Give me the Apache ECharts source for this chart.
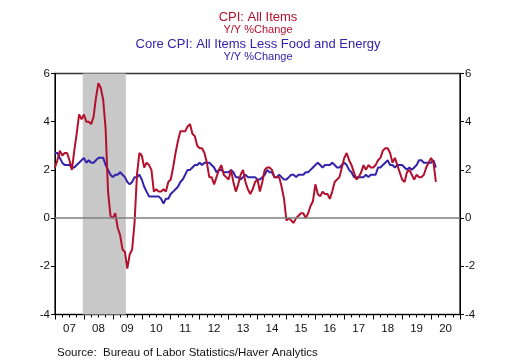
<!DOCTYPE html>
<html><head><meta charset="utf-8">
<script src="https://cdn.jsdelivr.net/npm/echarts@6/dist/echarts.min.js"></script>
<style>html,body{margin:0;padding:0;background:#fff}#c{width:515px;height:362px}</style>
</head><body><div id="c"></div>
<script>
const yearLabels = ['07','08','09','10','11','12','13','14','15','16','17','18','19','20'];
const startYear = 2007;
// CPI: All Items, Y/Y % change, monthly from Jan 2007
const cpiAll = [
 2.1,2.4,2.8,2.6,2.7,2.7,2.4,2.0,2.8,3.5,4.3,4.1,
 4.3,4.0,4.0,3.9,4.2,5.0,5.6,5.4,4.9,3.7,1.1,0.1,
 0.0,0.2,-0.4,-0.7,-1.3,-1.4,-2.1,-1.5,-1.3,-0.2,1.8,2.7,
 2.6,2.1,2.3,2.2,2.0,1.1,1.2,1.1,1.1,1.2,1.1,1.5,
 1.6,2.1,2.7,3.2,3.6,3.6,3.6,3.8,3.9,3.5,3.4,3.0,
 2.9,2.9,2.7,2.3,1.7,1.7,1.4,1.7,2.0,2.2,1.8,1.7,
 1.6,2.0,1.5,1.1,1.4,1.8,2.0,1.5,1.2,1.0,1.2,1.5,
 1.6,1.1,1.5,2.0,2.1,2.1,2.0,1.7,1.7,1.7,1.3,0.8,
 -0.1,0.0,-0.1,-0.2,0.0,0.1,0.2,0.2,0.0,0.2,0.5,0.7,
 1.4,1.0,0.9,1.1,1.0,1.0,0.8,1.1,1.5,1.6,1.7,2.1,
 2.5,2.7,2.4,2.2,1.9,1.6,1.7,1.9,2.2,2.0,2.2,2.1,
 2.1,2.2,2.4,2.5,2.8,2.9,2.9,2.7,2.3,2.5,2.2,1.9,
 1.6,1.5,1.9,2.0,1.8,1.6,1.8,1.7,1.7,1.8,2.1,2.3,
 2.5,2.3,1.5
];
// Core CPI: All Items Less Food and Energy, Y/Y % change, monthly from Jan 2007
const cpiCore = [
 2.7,2.7,2.5,2.3,2.2,2.2,2.2,2.1,2.1,2.2,2.3,2.4,
 2.5,2.3,2.4,2.3,2.3,2.4,2.5,2.5,2.5,2.2,2.0,1.8,
 1.7,1.8,1.8,1.9,1.8,1.7,1.5,1.4,1.5,1.7,1.7,1.8,
 1.6,1.3,1.1,0.9,0.9,0.9,0.9,0.9,0.8,0.6,0.8,0.8,
 1.0,1.1,1.2,1.3,1.5,1.6,1.8,2.0,2.0,2.1,2.2,2.2,
 2.3,2.2,2.3,2.3,2.3,2.2,2.1,1.9,2.0,2.0,1.9,1.9,
 1.9,2.0,1.9,1.7,1.7,1.6,1.7,1.8,1.7,1.7,1.7,1.7,
 1.6,1.6,1.7,1.8,2.0,1.9,1.9,1.7,1.7,1.8,1.7,1.6,
 1.6,1.7,1.8,1.8,1.7,1.8,1.8,1.8,1.9,1.9,2.0,2.1,
 2.2,2.3,2.2,2.1,2.2,2.2,2.2,2.3,2.2,2.1,2.1,2.2,
 2.3,2.2,2.0,1.9,1.7,1.7,1.7,1.7,1.7,1.8,1.7,1.8,
 1.8,1.8,2.1,2.1,2.2,2.3,2.4,2.2,2.2,2.1,2.2,2.2,
 2.2,2.1,2.0,2.1,2.0,2.1,2.2,2.4,2.4,2.3,2.3,2.3,
 2.3,2.4,2.1
];
const yTicks = [-4,-2,0,2,4,6];
const recession = [2007.96, 2009.45];

const toPts = arr => arr.map((v,i) => [startYear + i/12, v]);
const RED = '#b3102e', BLUE = '#3322aa';
const FONT = 'Liberation Sans, Arial, sans-serif';

const chart = echarts.init(document.getElementById('c'), null, {renderer:'canvas'});
const grid = {left:55, top:73.5, width:405, height:241, show:true, borderColor:'#333', borderWidth:1.5, backgroundColor:'transparent'};
chart.setOption({
  animation:false,
  grid: grid,
  graphic: [
    {type:'text', x:258, y:17, style:{text:'CPI: All Items', fill:RED, font:'13px '+FONT, textAlign:'center', textVerticalAlign:'middle'}},
    {type:'text', x:258, y:30, style:{text:'Y/Y %Change', fill:RED, font:'11px '+FONT, textAlign:'center', textVerticalAlign:'middle'}},
    {type:'text', x:258, y:44.5, style:{text:'Core CPI: All Items Less Food and Energy', fill:BLUE, font:'13px '+FONT, textAlign:'center', textVerticalAlign:'middle'}},
    {type:'text', x:258, y:57, style:{text:'Y/Y %Change', fill:BLUE, font:'11px '+FONT, textAlign:'center', textVerticalAlign:'middle'}},
    {type:'text', x:57, y:353, style:{text:'Source:  Bureau of Labor Statistics/Haver Analytics', fill:'#111', font:'11.5px '+FONT, textAlign:'left', textVerticalAlign:'middle'}}
  ],
  xAxis: [
    {type:'value', min:startYear, max:startYear+yearLabels.length, interval:1, position:'bottom',
     axisLine:{show:true, onZero:false, lineStyle:{color:'#000', width:1}},
     axisTick:{show:true, length:5, lineStyle:{color:'#000'}},
     minorTick:{show:true, splitNumber:4, length:3, lineStyle:{color:'#000'}},
     axisLabel:{show:false}, splitLine:{show:false}},
    {type:'category', data:yearLabels, position:'bottom', boundaryGap:true,
     axisLine:{show:false, onZero:false}, axisTick:{show:false}, splitLine:{show:false},
     axisLabel:{show:true, color:'#111', fontSize:11.5, fontFamily:FONT, margin:8}}
  ],
  yAxis: [
    {type:'value', min:yTicks[0], max:yTicks[yTicks.length-1], interval:2, position:'left',
     axisLine:{show:true, onZero:false, lineStyle:{color:'#000'}}, axisTick:{show:true, length:4, lineStyle:{color:'#000'}},
     axisLabel:{color:'#111', fontSize:11.5, fontFamily:FONT, margin:5}, splitLine:{show:false}},
    {type:'value', min:yTicks[0], max:yTicks[yTicks.length-1], interval:2, position:'right',
     axisLine:{show:true, onZero:false, lineStyle:{color:'#000'}}, axisTick:{show:true, length:4, lineStyle:{color:'#000'}},
     axisLabel:{color:'#111', fontSize:11.5, fontFamily:FONT, margin:5}, splitLine:{show:false}}
  ],
  series: [
    {type:'line', data:[], xAxisIndex:0, yAxisIndex:0, silent:true,
     markArea:{silent:true, itemStyle:{color:'#c8c8c8'}, data:[[{xAxis:recession[0], yAxis:yTicks[0]},{xAxis:recession[1], yAxis:yTicks[yTicks.length-1]}]]},
     markLine:{silent:true, symbol:'none', label:{show:false}, lineStyle:{color:'#7f7f7f', width:1.5, type:'solid'}, data:[{yAxis:0}]}},
    {name:'Core', type:'line', data:toPts(cpiCore), xAxisIndex:0, yAxisIndex:0, showSymbol:false, symbol:'none',
     lineStyle:{color:BLUE, width:2}, z:3},
    {name:'CPI', type:'line', data:toPts(cpiAll), xAxisIndex:0, yAxisIndex:0, showSymbol:false, symbol:'none',
     lineStyle:{color:RED, width:2}, z:4}
  ]
});
</script></body></html>
